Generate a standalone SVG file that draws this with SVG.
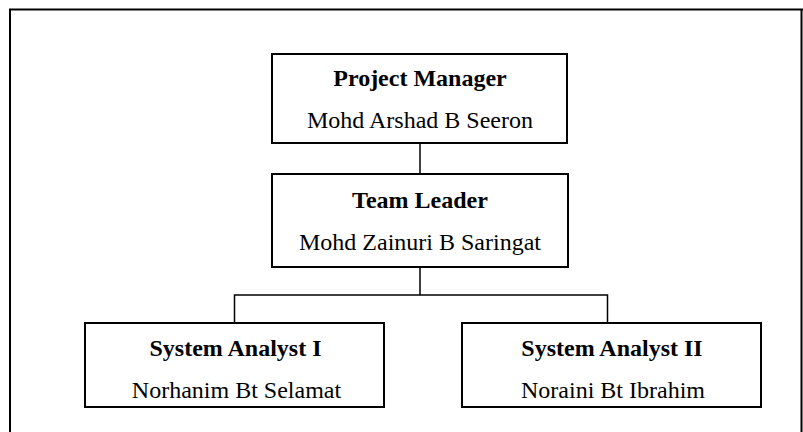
<svg xmlns="http://www.w3.org/2000/svg" width="803" height="432" viewBox="0 0 803 432">
<style>
.box{fill:#fff;stroke:#000;stroke-width:2}
.ln{fill:none;stroke:#000;stroke-width:1.5}
.frame{fill:none;stroke:#000;stroke-width:2}
.t{font-family:"Liberation Serif","Times New Roman",serif;font-size:24px;font-weight:bold;text-anchor:middle;fill:#000}
.n{font-family:"Liberation Serif","Times New Roman",serif;font-size:24px;text-anchor:middle;fill:#000}
</style>
<rect width="803" height="432" fill="#fff"/>
<path class="frame" d="M10,432 V9.5 H803 M801.5,9.5 V432"/>
<g id="connectors">
<path class="ln" d="M420,144 V174"/>
<path class="ln" d="M420,267 V295 M234.5,295 H607.5 M234.5,294.3 V323 M607.5,294.3 V323"/>
</g>
<g id="project-manager">
<rect class="box" x="272" y="54" width="295" height="89"/>
<text class="t" x="420" y="86">Project Manager</text>
<text class="n" x="420" y="128">Mohd Arshad B Seeron</text>
</g>
<g id="team-leader">
<rect class="box" x="272" y="174" width="296" height="93"/>
<text class="t" x="420" y="208">Team Leader</text>
<text class="n" x="420" y="250">Mohd Zainuri B Saringat</text>
</g>
<g id="system-analyst-1">
<rect class="box" x="85" y="323" width="299" height="84"/>
<text class="t" x="235.5" y="356">System Analyst I</text>
<text class="n" x="236.5" y="398">Norhanim Bt Selamat</text>
</g>
<g id="system-analyst-2">
<rect class="box" x="462" y="323" width="299" height="84"/>
<text class="t" x="612" y="356">System Analyst II</text>
<text class="n" x="613" y="398">Noraini Bt Ibrahim</text>
</g>
</svg>
